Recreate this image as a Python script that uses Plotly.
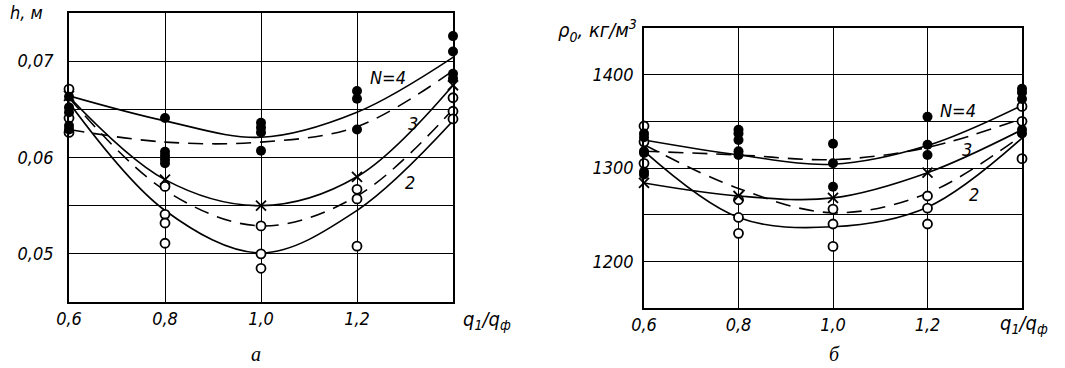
import plotly.graph_objects as go

# ---------------- data: panel a (h, m) ----------------
x_grid = [0.6, 0.8, 1.0, 1.2, 1.4]
x_ticks = [0.6, 0.8, 1.0, 1.2, 1.4]
x_ticktext = ["0,6", "0,8", "1,0", "1,2", ""]

h_N4 = [0.0664, 0.0638, 0.0621, 0.0647, 0.0704]
h_3 = [0.0629, 0.0616, 0.0616, 0.0632, 0.0690]
h_cross_curve = [0.0663, 0.0577, 0.0550, 0.0580, 0.0675]
h_dash2 = [0.0662, 0.0566, 0.0529, 0.0560, 0.0650]
h_2 = [0.0657, 0.0545, 0.0501, 0.0545, 0.0638]

h_filled_x = [0.6, 0.6, 0.6, 0.6, 0.6, 0.8, 0.8, 0.8, 0.8, 0.8, 1.0, 1.0, 1.0, 1.0,
              1.2, 1.2, 1.2, 1.4, 1.4, 1.4, 1.4]
h_filled_y = [0.0663, 0.0652, 0.0647, 0.0633, 0.0629, 0.0641, 0.0606, 0.0602, 0.0598, 0.0594,
              0.0636, 0.0631, 0.0626, 0.0607, 0.0669, 0.0661, 0.0629, 0.0726, 0.0710, 0.0687, 0.0682]
h_open_x = [0.6, 0.6, 0.6, 0.8, 0.8, 0.8, 0.8, 1.0, 1.0, 1.0, 1.2, 1.2, 1.2, 1.4, 1.4, 1.4]
h_open_y = [0.0671, 0.0641, 0.0626, 0.0570, 0.0541, 0.0532, 0.0511, 0.0529, 0.0500, 0.0485,
            0.0567, 0.0557, 0.0508, 0.0662, 0.0648, 0.0640]
h_cross_x = [0.6, 0.8, 1.0, 1.2, 1.4]
h_cross_y = [0.0664, 0.0577, 0.0550, 0.0580, 0.0675]

h_tickvals = [0.045, 0.05, 0.055, 0.06, 0.065, 0.07, 0.075]
h_ticktext = ["", "0,05", "", "0,06", "", "0,07", ""]

# ---------------- data: panel b (rho, kg/m3) ----------------
r_N4 = [1330, 1314, 1304, 1324, 1367]
r_3 = [1318, 1314, 1309, 1322, 1353]
r_cross_curve = [1284, 1270, 1268, 1295, 1341]
r_dash2 = [1325, 1278, 1252, 1273, 1335]
r_2 = [1318, 1247, 1237, 1258, 1332]

r_filled_x = [0.6, 0.6, 0.6, 0.6, 0.6, 0.6, 0.8, 0.8, 0.8, 0.8, 0.8, 1.0, 1.0, 1.0,
              1.2, 1.2, 1.2, 1.4, 1.4, 1.4, 1.4, 1.4]
r_filled_y = [1337, 1333, 1318, 1316, 1296, 1293, 1341, 1337, 1330, 1318, 1314, 1326, 1305, 1280,
              1355, 1325, 1314, 1385, 1381, 1374, 1341, 1337]
r_open_x = [0.6, 0.6, 0.6, 0.8, 0.8, 0.8, 1.0, 1.0, 1.0, 1.2, 1.2, 1.2, 1.4, 1.4, 1.4]
r_open_y = [1345, 1328, 1305, 1266, 1247, 1230, 1256, 1240, 1216, 1270, 1257, 1240, 1366, 1350, 1310]
r_cross_x = [0.6, 0.8, 1.0, 1.2]
r_cross_y = [1284, 1270, 1268, 1295]

r_tickvals = [1150, 1200, 1250, 1300, 1350, 1400, 1450]
r_ticktext = ["", "1200", "", "1300", "", "1400", ""]

# ---------------- figure ----------------
fig = go.Figure()
LW = 1.6
DASH = "15px,9px"


def add_panel(xa, ya, curves, fx, fy, ox, oy, cx, cy):
    for yv, dash in curves:
        fig.add_trace(go.Scatter(x=x_grid, y=yv, mode="lines", xaxis=xa, yaxis=ya,
                                 line=dict(color="black", width=LW, dash=dash, shape="spline", smoothing=1.0),
                                 showlegend=False, hoverinfo="skip"))
    fig.add_trace(go.Scatter(x=ox, y=oy, mode="markers", xaxis=xa, yaxis=ya, cliponaxis=False,
                             marker=dict(symbol="circle", size=9, color="white",
                                         line=dict(color="black", width=1.8)),
                             showlegend=False))
    fig.add_trace(go.Scatter(x=fx, y=fy, mode="markers", xaxis=xa, yaxis=ya, cliponaxis=False,
                             marker=dict(symbol="circle", size=10, color="black",
                                         line=dict(color="black", width=0)),
                             showlegend=False))
    fig.add_trace(go.Scatter(x=cx, y=cy, mode="markers", xaxis=xa, yaxis=ya, cliponaxis=False,
                             marker=dict(symbol="x-thin-open", size=10, color="black",
                                         line=dict(color="black", width=1.8)),
                             showlegend=False))


add_panel("x", "y",
          [(h_N4, "solid"), (h_3, DASH), (h_cross_curve, "solid"), (h_dash2, DASH), (h_2, "solid")],
          h_filled_x, h_filled_y, h_open_x, h_open_y, h_cross_x, h_cross_y)
add_panel("x2", "y2",
          [(r_N4, "solid"), (r_3, DASH), (r_cross_curve, "solid"), (r_dash2, DASH), (r_2, "solid")],
          r_filled_x, r_filled_y, r_open_x, r_open_y, r_cross_x, r_cross_y)

FONT = "DejaVu Sans Condensed, DejaVu Sans, sans-serif"
tick_font = dict(family=FONT, size=18, color="black", style="italic")

axis_common = dict(showline=True, linecolor="black", linewidth=LW, mirror=True,
                   showgrid=True, gridcolor="black", gridwidth=1.3, zeroline=False,
                   ticks="", tickfont=tick_font, fixedrange=True, automargin=False)

W, H = 1065, 368
fig.update_layout(
    template="none",
    width=W, height=H,
    margin=dict(l=0, r=0, t=0, b=0, pad=0),
    paper_bgcolor="white", plot_bgcolor="white",
    showlegend=False,
    xaxis=dict(domain=[69 / W, 453 / W], range=[0.6, 1.4], tickvals=x_ticks, ticktext=x_ticktext,
               anchor="y", ticklabelstandoff=0, **axis_common),
    yaxis=dict(domain=[(H - 302) / H, (H - 13) / H], range=[0.045, 0.075], tickvals=h_tickvals,
               ticktext=h_ticktext, anchor="x", ticklabelstandoff=10, **axis_common),
    xaxis2=dict(domain=[644 / W, 1022 / W], range=[0.6, 1.4], tickvals=x_ticks, ticktext=x_ticktext,
                anchor="y2", ticklabelstandoff=0, **axis_common),
    yaxis2=dict(domain=[(H - 308) / H, (H - 28) / H], range=[1150, 1450], tickvals=r_tickvals,
                ticktext=r_ticktext, anchor="x2", ticklabelstandoff=5, **axis_common),
)

lab_font = dict(family=FONT, size=18, color="black", style="italic")
big_font = dict(family=FONT, size=20, color="black", style="italic")
cap_font = dict(family="Liberation Serif, DejaVu Serif, serif", size=20, color="black", style="italic")


def pann(text, px, py, font):
    return dict(text=text, x=px / W, y=(H - py) / H, xref="paper", yref="paper",
                xanchor="center", yanchor="middle", showarrow=False, font=font)


def dann(text, x, y, xr, yr):
    return dict(text=text, x=x, y=y, xref=xr, yref=yr, xanchor="center", yanchor="middle",
                showarrow=False, font=lab_font)


annotations = [
    # panel a
    pann("h, м", 26, 12, lab_font),
    pann("q<sub>1</sub>/q<sub>ф</sub>", 487, 320, big_font),
    dann("N=4", 1.265, 0.0683, "x", "y"),
    dann("3", 1.317, 0.0635, "x", "y"),
    dann("2", 1.31, 0.0574, "x", "y"),
    pann("а", 256, 354, cap_font),
    # panel b
    pann("ρ<sub>0</sub>, кг/м<sup>3</sup>", 597, 30, big_font),
    pann("q<sub>1</sub>/q<sub>ф</sub>", 1024, 324, big_font),
    dann("N=4", 1.265, 1362, "x2", "y2"),
    dann("3", 1.284, 1320, "x2", "y2"),
    dann("2", 1.298, 1272, "x2", "y2"),
    pann("б", 834, 354, cap_font),
]
fig.update_layout(annotations=annotations)

fig.write_html("out.html", config={"displayModeBar": False},
               post_script="document.body.style.margin='0';document.body.style.padding='0';")
